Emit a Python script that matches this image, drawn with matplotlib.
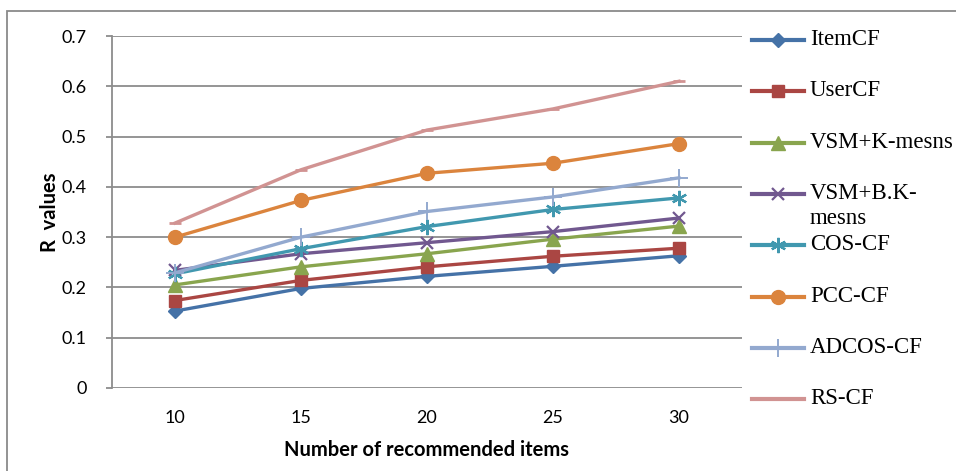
import matplotlib.pyplot as plt
from matplotlib.lines import Line2D
from matplotlib.patches import Rectangle

items = [10, 15, 20, 25, 30]
item_cf = [0.153, 0.198, 0.222, 0.242, 0.263]
user_cf = [0.174, 0.214, 0.241, 0.262, 0.278]
vsm_k = [0.205, 0.241, 0.267, 0.296, 0.322]
vsm_bk = [0.234, 0.267, 0.289, 0.311, 0.338]
cos_cf = [0.227, 0.277, 0.321, 0.355, 0.378]
pcc_cf = [0.300, 0.373, 0.427, 0.447, 0.486]
adcos_cf = [0.229, 0.300, 0.351, 0.380, 0.418]
rs_cf = [0.328, 0.434, 0.513, 0.555, 0.610]

names = ["ItemCF", "UserCF", "VSM+K-mesns", "VSM+B.K-\nmesns",
         "COS-CF", "PCC-CF", "ADCOS-CF", "RS-CF"]
series = [item_cf, user_cf, vsm_k, vsm_bk, cos_cf, pcc_cf, adcos_cf, rs_cf]
colors = ["#4572A7", "#AA4643", "#89A54E", "#71588F",
          "#4198AF", "#DB843D", "#93A9CF", "#D19392"]
styles = [
    dict(marker="D", markersize=7),
    dict(marker="s", markersize=8.5),
    dict(marker="^", markersize=10),
    dict(marker="x", markersize=9, markeredgewidth=1.6),
    dict(marker=(6, 2, 0), markersize=11, markeredgewidth=1.6),
    dict(marker="o", markersize=10),
    dict(marker="+", markersize=13, markeredgewidth=1.4),
    dict(marker="_", markersize=8, markeredgewidth=2),
]

W, H = 956, 471
fig = plt.figure(figsize=(W / 100, H / 100), dpi=100)

# outer chart frame
fig.patches.append(Rectangle((7 / W, -0.1), 1.2, 1 - 11 / H + 0.1,
                             transform=fig.transFigure, fill=False,
                             edgecolor="#8a8a8a", linewidth=1.3))

ax = fig.add_axes([112 / W, 1 - 388 / H, 630 / W, 352 / H])
x = list(range(len(items)))

for vals, c, st in zip(series, colors, styles):
    ax.plot(x, vals, color=c, linewidth=2.4, markerfacecolor=c,
            markeredgecolor=c, clip_on=False, zorder=3, **st)

ax.set_xlim(-0.5, len(items) - 0.5)
ax.set_ylim(0, 0.7)
ax.set_yticks([0, 0.1, 0.2, 0.3, 0.4, 0.5, 0.6, 0.7])
ax.set_yticklabels(["0", "0.1", "0.2", "0.3", "0.4", "0.5", "0.6", "0.7"])
ax.set_xticks(x)
ax.set_xticklabels([str(v) for v in items])
ax.yaxis.grid(True, color="#8c8c8c", linewidth=1.3)
ax.set_axisbelow(True)
for s in ["top", "right", "bottom"]:
    ax.spines[s].set_visible(False)
ax.spines["left"].set_color("#8c8c8c")
ax.spines["left"].set_linewidth(1.3)
ax.tick_params(axis="y", length=4, width=1.3, color="#8c8c8c", pad=14,
               labelsize=13)
ax.tick_params(axis="x", length=0, pad=16, labelsize=13)
for lab in ax.get_xticklabels() + ax.get_yticklabels():
    lab.set_family("Lato")

ax.set_xlabel("Number of recommended items", fontsize=14.5, fontweight="bold",
              family="Lato", labelpad=10)
ax.set_ylabel("R  values", fontsize=14.5, fontweight="bold", family="Lato",
              labelpad=1)

# legend drawn on the right
hx0, hx1 = 752 / W, 804 / W
for i, (name, c, st) in enumerate(zip(names, colors, styles)):
    yp = 40 + i * 51.3
    yf = 1 - yp / H
    fig.add_artist(Line2D([hx0, hx1], [yf, yf], color=c, linewidth=3,
                          transform=fig.transFigure))
    fig.add_artist(Line2D([(hx0 + hx1) / 2], [yf], color=c,
                          markerfacecolor=c, markeredgecolor=c,
                          transform=fig.transFigure, **st))
    fig.text(810 / W, 1 - (yp - 11) / H, name, family="Liberation Serif",
             fontsize=16.5, va="top", ha="left", linespacing=1.25)

fig.savefig("out.png", dpi=100)
